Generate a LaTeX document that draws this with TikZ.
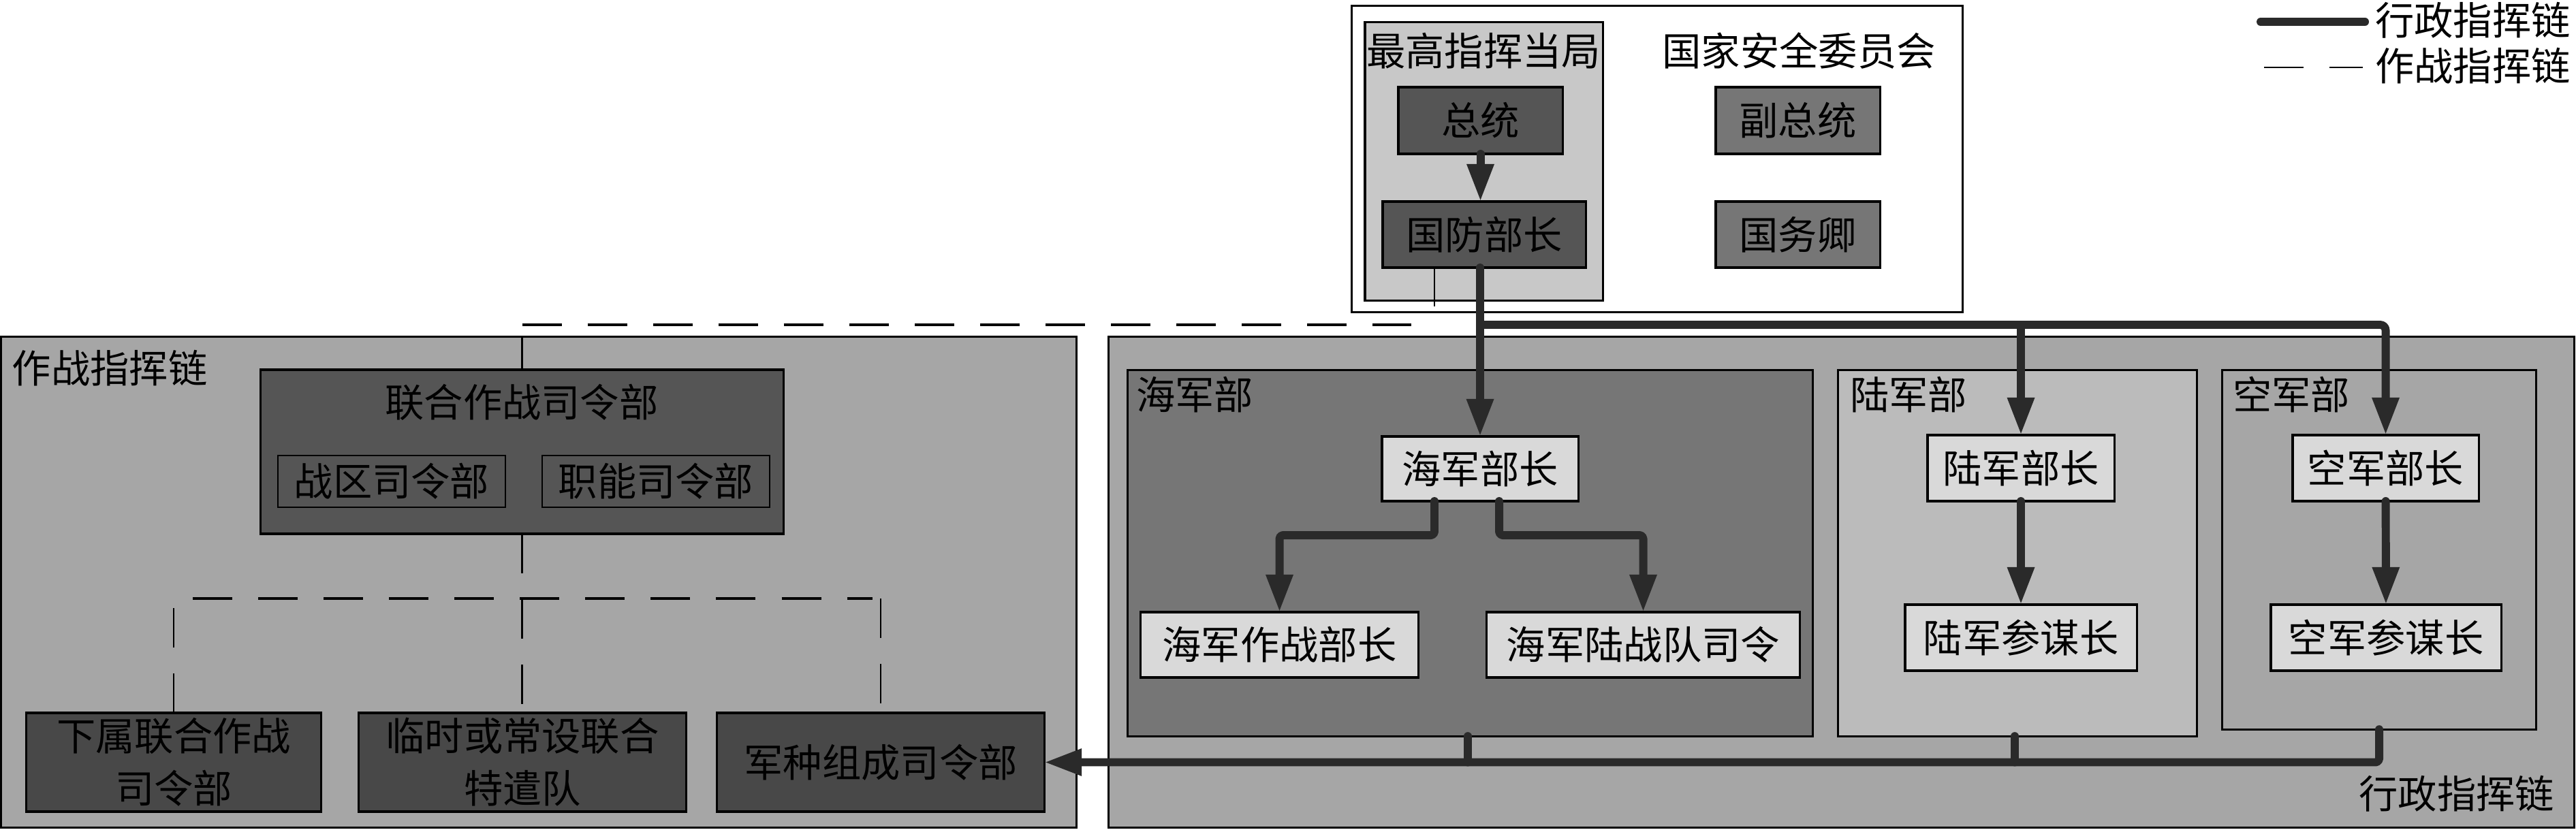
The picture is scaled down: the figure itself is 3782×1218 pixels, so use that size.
\documentclass[tikz,border=0pt]{standalone}
\usepackage{fontspec}
\setmainfont{Noto Sans CJK SC}
\usetikzlibrary{arrows.meta}
\definecolor{linec}{RGB}{42,42,42}
\definecolor{ncac}{RGB}{200,200,200}
\definecolor{dkc}{RGB}{85,85,85}
\definecolor{dkkc}{RGB}{72,72,72}
\definecolor{midc}{RGB}{118,118,118}
\definecolor{bgc}{RGB}{166,166,166}
\definecolor{armyc}{RGB}{187,187,187}
\definecolor{ltc}{RGB}{217,217,217}
\tikzset{
  box/.style={draw=black, line width=0.9pt, inner sep=0pt, outer sep=0pt, text=black, align=center},
  thinbox/.style={box, line width=0.5pt},
  lbl/.style={inner sep=0pt, outer sep=0pt, text=black},
  admline/.style={draw=linec, line width=3.4pt, line cap=round, line join=round},
  admarrow/.style={admline, -{Triangle[length=5.5mm,width=3.7mm]}},
  opdash/.style={draw=black, line width=0.9pt, dash pattern=on 0.58cm off 0.38cm},
  opvert/.style={draw=black, line width=0.6pt, dash pattern=on 0.58cm off 0.38cm},
  opthin/.style={draw=black, line width=0.6pt}
}
\begin{document}
\begin{tikzpicture}[x=0.01cm, y=-0.01cm, font=\fontsize{16.3}{21.9}\selectfont]
\useasboundingbox[fill=white] (0,0) rectangle (3782,1218);

% ---- top container
\node[box, fill=white, minimum width=8.96cm, minimum height=4.49cm] (nsc) at (2433,233.5) {};
\node[box, fill=ncac, minimum width=3.49cm, minimum height=4.08cm] (nca) at (2178.5,237) {};
\node[lbl] (ncalbl) at (2178,75) {最高指挥当局};
\node[lbl] (nsclbl) at (2641,75) {国家安全委员会};
\node[box, fill=dkc, minimum width=2.41cm, minimum height=0.98cm] (pres) at (2173.5,177) {总统};
\node[box, fill=dkc, minimum width=2.98cm, minimum height=0.97cm] (secdef) at (2179,344.5) {国防部长};
\node[box, fill=midc, minimum width=2.41cm, minimum height=0.98cm] (vp) at (2639.5,177) {副总统};
\node[box, fill=midc, minimum width=2.41cm, minimum height=0.97cm] (sos) at (2639.5,344.5) {国务卿};

% ---- operational chain container
\node[box, fill=bgc, minimum width=15.78cm, minimum height=7.20cm] (opbox) at (791,855) {};
\node[lbl, anchor=west] (oplbl) at (18,541) {作战指挥链};
\node[box, fill=dkc, minimum width=7.67cm, minimum height=2.41cm] (jcc) at (766.5,663.5) {};
\node[lbl] (jcclbl) at (766,591) {联合作战司令部};
\node[thinbox, fill=dkc, minimum width=3.34cm, minimum height=0.76cm] (theater) at (575,707) {战区司令部};
\node[thinbox, fill=dkc, minimum width=3.34cm, minimum height=0.76cm] (func) at (963,707) {职能司令部};
\node[box, fill=dkkc, minimum width=4.32cm, minimum height=1.45cm] (sub) at (255,1119.5) {下属联合作战\\司令部};
\node[box, fill=dkkc, minimum width=4.80cm, minimum height=1.45cm] (jtf) at (767,1119.5) {临时或常设联合\\特遣队};
\node[box, fill=dkkc, minimum width=4.80cm, minimum height=1.45cm] (comp) at (1293,1119.5) {军种组成司令部};

% ---- administrative chain container
\node[box, fill=bgc, minimum width=21.51cm, minimum height=7.20cm] (admbox) at (2703.5,855) {};
\node[lbl, anchor=east] (admlbl) at (3750,1166) {行政指挥链};
\node[box, fill=midc, minimum width=10.05cm, minimum height=5.37cm] (navy) at (2158.5,812.5) {};
\node[box, fill=armyc, minimum width=5.26cm, minimum height=5.37cm] (army) at (2962,812.5) {};
\node[box, fill=bgc, minimum width=4.60cm, minimum height=5.27cm] (af) at (3493,807.5) {};
\node[lbl, anchor=west] (navylbl) at (1668,580) {海军部};
\node[lbl, anchor=west] (armylbl) at (2716,580) {陆军部};
\node[lbl, anchor=west] (aflbl) at (3278,580) {空军部};
\node[box, fill=ltc, minimum width=2.88cm, minimum height=0.95cm] (secnav) at (2173,688.5) {海军部长};
\node[box, fill=ltc, minimum width=4.07cm, minimum height=0.96cm] (cno) at (1878.5,947) {海军作战部长};
\node[box, fill=ltc, minimum width=4.59cm, minimum height=0.96cm] (cmc) at (2412.5,947) {海军陆战队司令};
\node[box, fill=ltc, minimum width=2.74cm, minimum height=0.97cm] (secarmy) at (2967,687.5) {陆军部长};
\node[box, fill=ltc, minimum width=3.40cm, minimum height=0.97cm] (csa) at (2967,936.5) {陆军参谋长};
\node[box, fill=ltc, minimum width=2.73cm, minimum height=0.97cm] (secaf) at (3502.5,687.5) {空军部长};
\node[box, fill=ltc, minimum width=3.38cm, minimum height=0.97cm] (csaf) at (3503,936.5) {空军参谋长};

% ---- legend
\coordinate (lgAa) at (3319,32);
\coordinate (lgAb) at (3472,32);
\coordinate (lgBa) at (3324,99);
\coordinate (lgBb) at (3469,99);
\draw[admline] (lgAa) -- (lgAb);
\node[lbl, anchor=west] (lgAt) at (3487,30) {行政指挥链};
\draw[opdash, line width=0.8pt] (lgBa) -- (lgBb);
\node[lbl, anchor=west] (lgBt) at (3487,97) {作战指挥链};

% ---- operational (dashed) chain
\coordinate (dtop) at (2072,477);
\coordinate (dl) at (283,879);
\coordinate (dr) at (1281,879);
\draw[opthin] ([xshift=-0.73cm]secdef.south) -- ++(0,57);
\draw[opdash] (jcc.north |- dtop) -- (dtop);
\draw[opthin] (jcc.north |- opbox.north) -- (jcc.north);
\draw[opvert] (jcc.south) -- (jcc.south |- jtf.north);
\draw[opvert] (sub.north) -- ++(0,-157);
\draw[opdash] (dl) -- (dr);
\draw[opvert] (comp.north |- dr) -- (comp.north);

% ---- administrative chain
\coordinate (atop) at (2173,477);
\draw[admarrow] (pres.south) -- (pres.south |- secdef.north);
\draw[admarrow] (secdef.south -| secnav.north) -- (secnav.north);
\draw[admarrow, rounded corners=0.08cm] (atop) -- (atop -| secaf.north) -- (secaf.north);
\draw[admarrow] (atop -| secarmy.north) -- (secarmy.north);
\draw[admarrow, rounded corners=0.05cm] ([xshift=-0.67cm]secnav.south) -- ++(0,50) -| (cno.north);
\draw[admarrow, rounded corners=0.05cm] ([xshift=0.28cm]secnav.south) -- ++(0,50) -| (cmc.north);
\draw[admarrow] (secarmy) -- (csa);
\draw[admarrow] (secaf) -- (csaf);
\draw[admarrow, rounded corners=0.05cm] (af.south) -- (af.south |- comp.east) -- (comp.east);
\draw[admline] ([xshift=-0.035cm]navy.south) -- ([xshift=-0.035cm]navy.south |- comp.east);
\draw[admline] ([xshift=-0.04cm]army.south) -- ([xshift=-0.04cm]army.south |- comp.east);
\end{tikzpicture}
\end{document}
